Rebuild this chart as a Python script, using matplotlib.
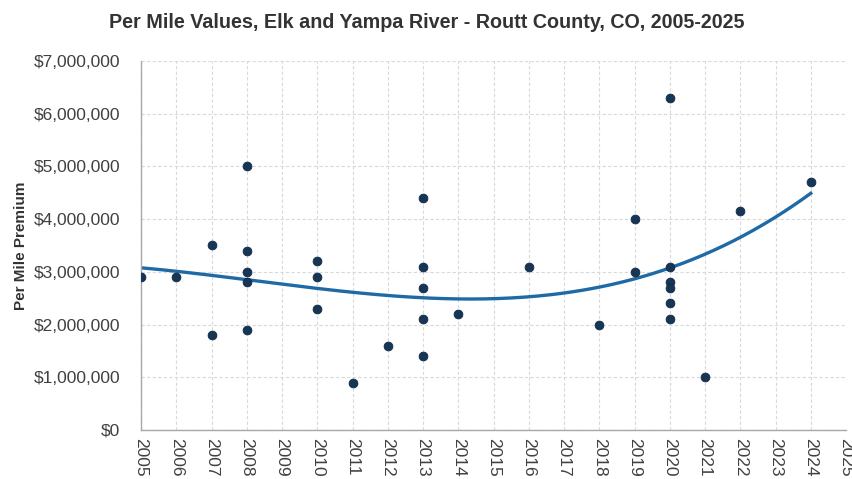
import numpy as np
import matplotlib
matplotlib.use("Agg")
import matplotlib.pyplot as plt
from matplotlib.ticker import FuncFormatter, MultipleLocator

# sale year and per mile premium (millions of dollars)
years = [2005, 2006, 2007, 2007,
         2008, 2008, 2008, 2008, 2008,
         2010, 2010, 2010, 2011, 2012,
         2013, 2013, 2013, 2013, 2013,
         2014, 2016, 2018, 2019, 2019,
         2020, 2020, 2020, 2020, 2020, 2020,
         2021, 2022, 2024]
values = [2.9, 2.9, 3.5, 1.8,
          5.0, 3.4, 3.0, 2.8, 1.9,
          3.2, 2.9, 2.3, 0.9, 1.6,
          4.4, 3.1, 2.7, 2.1, 1.4,
          2.2, 3.1, 2.0, 4.0, 3.0,
          6.3, 3.1, 2.8, 2.7, 2.4, 2.1,
          1.0, 4.15, 4.7]

title = "Per Mile Values, Elk and Yampa River - Routt County, CO, 2005-2025"
ylabel = "Per Mile Premium"

plt.rcParams['font.family'] = ['Liberation Sans', 'DejaVu Sans']

fig = plt.figure(figsize=(8.53, 4.79), dpi=100)
ax = fig.add_axes([0.1653, 0.1023, 0.8265, 0.7704])

x = np.array(years, dtype=float)
y = np.array(values) * 1e6

# order 3 polynomial trendline over the data range
coef = np.polyfit(x - 2015, y, 3)
xs = np.linspace(x.min(), x.max(), 200)
ax.plot(xs, np.polyval(coef, xs - 2015), color='#1f6aa5', lw=2.4, zorder=2)

ax.scatter(x, y, s=40, color='#173656', edgecolors='#0f2a45', linewidths=0.6, zorder=3)

ax.set_xlim(2005, 2025)
ax.set_ylim(0, 7e6)
ax.xaxis.set_major_locator(MultipleLocator(1))
ax.yaxis.set_major_locator(MultipleLocator(1e6))
ax.yaxis.set_major_formatter(FuncFormatter(lambda v, p: f"${v:,.0f}"))

ax.grid(True, color='#d9d9d9', lw=0.8, ls=(0, (3, 2)))
ax.set_axisbelow(True)
for s in ['top', 'right']:
    ax.spines[s].set_visible(False)
for s in ['left', 'bottom']:
    ax.spines[s].set_color('#a8a8a8')
    ax.spines[s].set_linewidth(1.0)

ax.tick_params(length=0, labelsize=12.5, colors='#404040')
ax.tick_params(axis='y', pad=15)
ax.tick_params(axis='x', labelrotation=-90, pad=6)

ax.set_ylabel(ylabel, fontsize=11, fontweight='bold', color='#333333', labelpad=4)

fig.text(0.5, 0.953, title, ha='center', va='center', fontsize=14.2,
         fontweight='bold', color='#333333')

fig.savefig("out.png", dpi=100)
